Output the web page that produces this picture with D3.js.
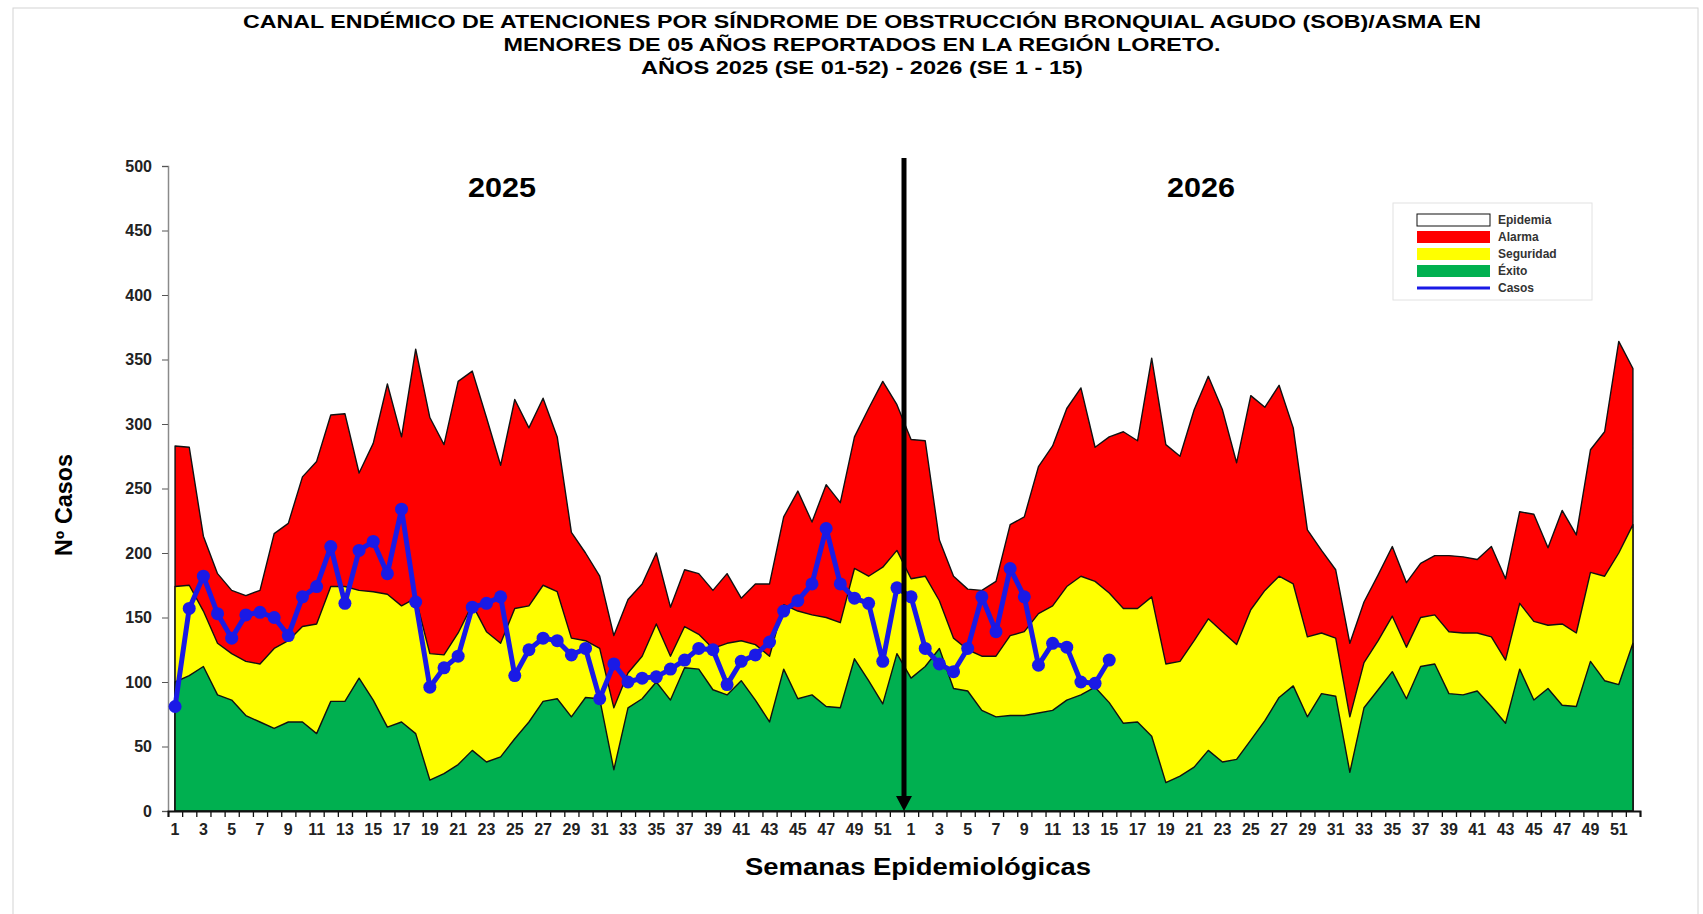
<!DOCTYPE html>
<meta charset="utf-8">
<script src="https://d3js.org/d3.v7.min.js"></script>
<style>
  body { margin: 0; background: #fff; }
  text { font-family: "Liberation Sans", Arial, sans-serif; }
</style>
<div id="chart"></div>
<script>

// years shown and weeks of each year
var years = ["2025", "2026"];
var semanas = d3.range(1, 53);

// upper limit of each band
var exito2025 = [100,105,112,90,86,74,69,64,69,69, 60,85,85,103,86,65,69,60,24,29,
                 36,47,38,42,56,69,85,87,73,88, 87,32,80,87,100,86,111,110,94,90,
                 101,86,69,110,87,90,81,80,118,101,83,122];
var exito2026 = [103,112,126,95,93,78,73,74,74,76, 78,86,90,96,84,68,69,58,22,27,
                 34,47,38,40,55,70,88,97,73,91, 89,30,80,94,108,87,112,114,91,90,
                 93,81,68,110,86,95,82,81,116,101,98,130];
var seguridad2025 = [174,175,155,130,122,116,114,126,132,143, 145,174,174,171,170,168,159,165,122,121,
                     138,160,139,130,157,159,175,170,134,132, 126,80,107,120,145,120,143,137,126,130,
                     132,129,120,160,155,152,150,146,188,182,189,202];
var seguridad2026 = [180,182,163,134,125,120,120,136,139,153, 159,174,182,178,169,157,157,166,114,116,
                     132,149,139,129,156,171,182,176,135,138, 134,73,115,132,151,127,150,152,139,138,
                     138,135,117,161,147,144,145,138,185,182,200,222];
var alarma2025 = [283,282,213,184,171,167,171,215,223,259, 271,307,308,262,285,331,290,358,305,284,
                  333,341,305,268,319,297,320,290,216,200, 182,136,164,176,200,158,187,184,171,184,
                  165,176,176,228,248,224,253,239,290,312,333,315];
var alarma2026 = [288,287,210,182,172,171,178,222,228,267, 283,312,328,282,290,294,287,351,284,275,
                  311,337,311,270,322,313,330,297,218,202, 187,130,162,183,205,177,192,198,198,197,
                  195,205,180,232,230,204,233,214,280,294,364,343];

// reported cases
var casos2025 = [81,157,182,153,134,152,154,150,136,166, 174,205,161,202,209,184,234,162,96,111,
                 120,158,161,166,105,125,134,132,121,126, 87,114,100,103,104,110,117,126,125,98,
                 116,121,131,155,163,176,219,176,165,161,116,173];
var casos2026 = [166,126,114,108,126,166,139,188,166,113,130,127,100,99,117];

var yTicks = [0,50,100,150,200,250,300,350,400,450,500];
var legendLabels = ["Epidemia","Alarma","Seguridad","Éxito","Casos"];
var legendColors = ["#ffffff","#ff0000","#ffff00","#00b050","#1a1ae6"];

var titleLines = [
  "CANAL ENDÉMICO DE ATENCIONES POR SÍNDROME DE OBSTRUCCIÓN BRONQUIAL AGUDO (SOB)/ASMA EN",
  "MENORES DE 05 AÑOS REPORTADOS EN LA REGIÓN LORETO.",
  "AÑOS 2025  (SE 01-52) - 2026 (SE 1 - 15)"
];

// build one row per week
var rows = [];
var bands = {"2025": [exito2025, seguridad2025, alarma2025, casos2025],
             "2026": [exito2026, seguridad2026, alarma2026, casos2026]};
years.forEach(function(yr) {
  semanas.forEach(function(w, k) {
    var b = bands[yr];
    rows.push({ i: rows.length, year: yr, week: w,
                exito: b[0][k], seguridad: b[1][k], alarma: b[2][k], casos: b[3][k] });
  });
});

var width = 1703, height = 914;

var svg = d3.select("#chart")
  .append("svg")
    .attr("width", width)
    .attr("height", height);

// light frame round the picture
svg.append("rect")
  .attr("x", 13).attr("y", 8)
  .attr("width", 1685).attr("height", 930)
  .attr("fill", "none")
  .attr("stroke", "#d4d4d4");

// title
svg.append("g").selectAll("text")
  .data(titleLines)
  .enter().append("text")
    .attr("x", 862)
    .attr("y", function(d, i) { return 28 + i * 23; })
    .attr("text-anchor", "middle")
    .attr("font-size", 18)
    .attr("font-weight", "bold")
    .attr("textLength", function(d, i) { return [1238, 717, 442][i]; })
    .attr("lengthAdjust", "spacingAndGlyphs")
    .text(function(d) { return d; });

// scales
var x = d3.scaleBand()
  .domain(rows.map(function(d) { return d.i; }))
  .range([168, 1640])
  .padding(0);
var cx = function(i) { return x(i) + x.bandwidth() / 2; };

var y = d3.scaleLinear()
  .domain([0, 500])
  .range([811, 166]);

// the three channel bands, drawn back to front
var layers = [
  { key: "alarma", color: "#ff0000" },
  { key: "seguridad", color: "#ffff00" },
  { key: "exito", color: "#00b050" }
];
layers.forEach(function(l) {
  svg.append("path")
    .datum(rows)
    .attr("fill", l.color)
    .attr("stroke", "#111")
    .attr("stroke-width", 1.4)
    .attr("stroke-linejoin", "round")
    .attr("d", d3.area()
      .x(function(d) { return cx(d.i); })
      .y0(y(0))
      .y1(function(d) { return y(d[l.key]); }));
});

// Y axis
var yAxis = svg.append("g")
  .attr("transform", "translate(168,0)")
  .call(d3.axisLeft(y).tickValues(yTicks).tickSize(6).tickPadding(10));
yAxis.select(".domain").attr("stroke", "#8a8a8a").attr("stroke-width", 1.5);
yAxis.selectAll(".tick line").attr("stroke", "#555");
yAxis.selectAll(".tick text")
  .attr("font-size", 16).attr("font-weight", "bold").attr("fill", "#222")
  .style("font-family", "'Liberation Sans', Arial, sans-serif");

// X axis: tick marks on band edges
var edges = d3.scaleLinear().domain([0, rows.length]).range(x.range());
var xTicks = svg.append("g")
  .attr("transform", "translate(0,811)")
  .call(d3.axisBottom(edges).tickValues(d3.range(rows.length + 1)).tickSize(6).tickFormat(""));
xTicks.select(".domain").attr("stroke", "#111").attr("stroke-width", 2);
xTicks.selectAll(".tick line").attr("stroke", "#111").attr("stroke-width", 1.3);

// X axis labels: odd weeks
var xLab = svg.append("g")
  .attr("transform", "translate(0,811)")
  .call(d3.axisBottom(x)
    .tickValues(rows.filter(function(d) { return d.week % 2 === 1; }).map(function(d) { return d.i; }))
    .tickFormat(function(i) { return rows[i].week; })
    .tickSize(0).tickPadding(13));
xLab.select(".domain").remove();
xLab.selectAll(".tick text")
  .attr("font-size", 16).attr("font-weight", "bold").attr("fill", "#222")
  .style("font-family", "'Liberation Sans', Arial, sans-serif");

// cases line with markers
var casos = rows.filter(function(d) { return d.casos !== undefined; });
svg.append("path")
  .datum(casos)
  .attr("fill", "none")
  .attr("stroke", "#1a1ae6")
  .attr("stroke-width", 5)
  .attr("stroke-linejoin", "round")
  .attr("d", d3.line()
    .x(function(d) { return cx(d.i); })
    .y(function(d) { return y(d.casos); }));
svg.append("g").selectAll("circle")
  .data(casos)
  .enter().append("circle")
    .attr("cx", function(d) { return cx(d.i); })
    .attr("cy", function(d) { return y(d.casos); })
    .attr("r", 6.5)
    .attr("fill", "#1a1ae6");

// year separator arrow
var sepX = x(52);
svg.append("line")
  .attr("x1", sepX).attr("x2", sepX)
  .attr("y1", 158).attr("y2", 800)
  .attr("stroke", "#000").attr("stroke-width", 5);
svg.append("path")
  .attr("d", "M" + (sepX - 8) + ",796 L" + (sepX + 8) + ",796 L" + sepX + ",811 Z")
  .attr("fill", "#000");

// year labels
svg.append("g").selectAll("text")
  .data(years)
  .enter().append("text")
    .attr("x", function(d, k) { return [502, 1201][k]; })
    .attr("y", 197)
    .attr("text-anchor", "middle")
    .attr("font-size", 28)
    .attr("font-weight", "bold")
    .attr("textLength", 68)
    .attr("lengthAdjust", "spacingAndGlyphs")
    .text(function(d) { return d; });

// axis titles
svg.append("text")
  .attr("transform", "translate(72,505) rotate(-90)")
  .attr("text-anchor", "middle")
  .attr("font-size", 23)
  .attr("font-weight", "bold")
  .attr("textLength", 102)
  .attr("lengthAdjust", "spacingAndGlyphs")
  .text("Nº Casos");
svg.append("text")
  .attr("x", 918).attr("y", 875)
  .attr("text-anchor", "middle")
  .attr("font-size", 23)
  .attr("font-weight", "bold")
  .attr("textLength", 346)
  .attr("lengthAdjust", "spacingAndGlyphs")
  .text("Semanas Epidemiológicas");

// legend
var legend = svg.append("g");
legend.append("rect")
  .attr("x", 1393).attr("y", 203)
  .attr("width", 199).attr("height", 97)
  .attr("fill", "#fff")
  .attr("stroke", "#e2e2e2");
legendLabels.forEach(function(lab, k) {
  var cy = 220 + k * 17;
  if (lab === "Casos") {
    legend.append("line")
      .attr("x1", 1417).attr("x2", 1490)
      .attr("y1", cy).attr("y2", cy)
      .attr("stroke", legendColors[k]).attr("stroke-width", 3);
  } else {
    legend.append("rect")
      .attr("x", 1417).attr("y", cy - 6)
      .attr("width", 73).attr("height", 12)
      .attr("fill", legendColors[k])
      .attr("stroke", k === 0 ? "#111" : "none");
  }
  legend.append("text")
    .attr("x", 1498).attr("y", cy + 4)
    .attr("font-size", 12)
    .attr("font-weight", "bold")
    .attr("fill", "#333")
    .text(lab);
});

</script>
